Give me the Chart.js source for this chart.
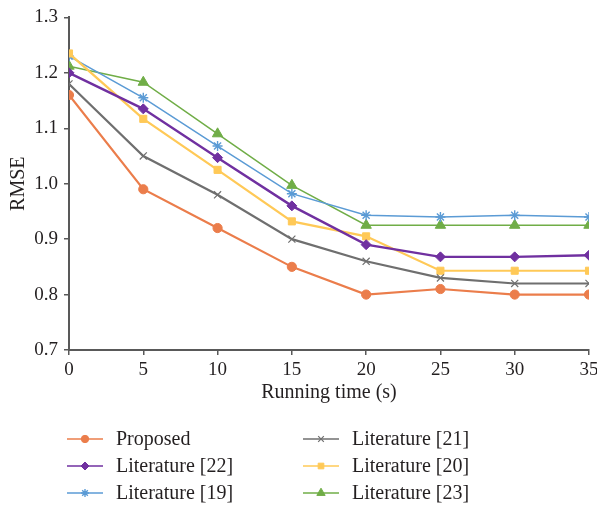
<!DOCTYPE html>
<html>
<head>
<meta charset="utf-8">
<script src="https://cdn.jsdelivr.net/npm/chart.js@4.4.1/dist/chart.umd.min.js"></script>
<style>
  html, body { margin: 0; padding: 0; background: #fff; }
  #wrap { width: 597px; height: 506px; position: relative; }
</style>
</head>
<body>
<div id="wrap"><canvas id="c" width="597" height="506"></canvas></div>
<script>
const times = [0, 5, 10, 15, 20, 25, 30, 35];
const yTicks = [0.7, 0.8, 0.9, 1.0, 1.1, 1.2, 1.3];
const seriesNames = ['Proposed', 'Literature [21]', 'Literature [22]', 'Literature [20]', 'Literature [19]', 'Literature [23]'];
const proposed = [1.16, 0.99, 0.92, 0.85, 0.80, 0.81, 0.80, 0.80];
const lit21 = [1.18, 1.05, 0.98, 0.90, 0.86, 0.83, 0.82, 0.82];
const lit22 = [1.20, 1.135, 1.047, 0.96, 0.89, 0.868, 0.868, 0.871];
const lit20 = [1.235, 1.117, 1.025, 0.932, 0.905, 0.843, 0.843, 0.843];
const lit19 = [1.23, 1.155, 1.068, 0.982, 0.943, 0.940, 0.943, 0.940];
const lit23 = [1.212, 1.183, 1.090, 0.997, 0.925, 0.925, 0.925, 0.925];

const seriesValues = [proposed, lit21, lit22, lit20, lit19, lit23];
const styles = [
  { color: '#EB7D4B', point: 'circle', r: 4.6, bw: 1, lw: 2.2 },
  { color: '#6F6F6F', point: 'crossRot', r: 5, bw: 1.2, lw: 2.2 },
  { color: '#7030A0', point: 'rectRot', r: 5, bw: 1, lw: 2.4 },
  { color: '#FFC957', point: 'rect', r: 5, bw: 1, lw: 2.2 },
  { color: '#5B9BD5', point: 'star', r: 5, bw: 1.4, lw: 1.5 },
  { color: '#70AD47', point: 'triangle', r: 6, bw: 1, lw: 1.5 }
];

const datasets = seriesNames.map((name, i) => ({
  label: name,
  data: times.map((t, j) => ({ x: t, y: seriesValues[i][j] })),
  borderColor: styles[i].color,
  backgroundColor: styles[i].color,
  pointBackgroundColor: styles[i].color,
  pointBorderColor: styles[i].color,
  pointStyle: styles[i].point,
  pointRadius: styles[i].r,
  pointBorderWidth: styles[i].bw,
  borderWidth: styles[i].lw,
  tension: 0,
  fill: false
}));

const FONT = "'Liberation Serif', 'Times New Roman', serif";

const legendPlugin = {
  id: 'twoColLegend',
  afterDraw(chart) {
    const ctx = chart.ctx;
    const rowsY = [439, 466, 493];
    const colX = [67, 303];
    ctx.save();
    chart.data.datasets.forEach((ds, i) => {
      const row = Math.floor(i / 2), col = i % 2;
      const y = rowsY[row], x0 = colX[col];
      ctx.globalAlpha = 0.75;
      ctx.strokeStyle = ds.borderColor;
      ctx.lineWidth = 2;
      ctx.beginPath();
      ctx.moveTo(x0, y);
      ctx.lineTo(x0 + 36, y);
      ctx.stroke();
      ctx.globalAlpha = 1;
      ctx.fillStyle = ds.backgroundColor;
      ctx.strokeStyle = ds.borderColor;
      ctx.lineWidth = ds.pointBorderWidth;
      Chart.helpers.drawPoint(ctx, { pointStyle: ds.pointStyle, radius: ds.pointRadius * 0.8, borderWidth: ds.pointBorderWidth }, x0 + 18, y);
      ctx.fillStyle = '#231f20';
      ctx.font = "20px " + FONT;
      ctx.textBaseline = 'middle';
      ctx.textAlign = 'left';
      ctx.fillText(ds.label, x0 + 49, y + 1);
    });
    ctx.restore();
  }
};

new Chart(document.getElementById('c'), {
  type: 'line',
  data: { datasets },
  plugins: [legendPlugin],
  options: {
    responsive: false,
    animation: false,
    layout: { padding: { top: 16, right: 0, bottom: 100, left: 0 } },
    plugins: { legend: { display: false }, tooltip: { enabled: false } },
    scales: {
      x: {
        type: 'linear',
        min: 0, max: 35,
        afterFit(scale) { scale.height = 56; scale.paddingRight = 8; scale.paddingLeft = 0; },
        afterBuildTicks(scale) { scale.ticks = times.map(v => ({ value: v })); },
        ticks: { color: '#231f20', font: { family: FONT, size: 19 }, padding: 4, maxRotation: 0 },
        grid: { drawOnChartArea: false, drawTicks: true, tickLength: 5, color: '#595959', lineWidth: 1.5 },
        border: { display: true, color: '#595959', width: 2 },
        title: { display: true, text: 'Running time (s)', color: '#231f20', font: { family: FONT, size: 20 }, padding: { top: 0, bottom: 1 } }
      },
      y: {
        min: 0.7, max: 1.3,
        afterFit(scale) { scale.width = 69; },
        afterBuildTicks(scale) { scale.ticks = yTicks.map(v => ({ value: v })); },
        ticks: { color: '#231f20', font: { family: FONT, size: 19 }, padding: 6, callback: v => Number(v).toFixed(1) },
        grid: { drawOnChartArea: false, drawTicks: true, tickLength: 5, color: '#595959', lineWidth: 1.5 },
        border: { display: true, color: '#595959', width: 2 },
        title: { display: true, text: 'RMSE', color: '#231f20', font: { family: FONT, size: 20 }, padding: { top: 7, bottom: 0 } }
      }
    }
  }
});
</script>
</body>
</html>
